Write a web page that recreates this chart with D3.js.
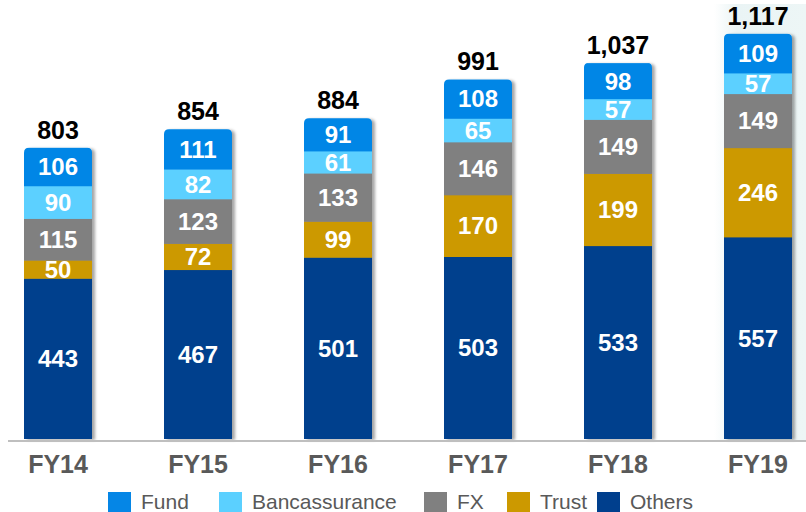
<!DOCTYPE html>
<html>
<head>
<meta charset="utf-8">
<script src="https://cdn.jsdelivr.net/npm/d3@7"></script>
<style>
  body { margin: 0; background: #fff; }
  svg { display: block; font-family: "Liberation Sans", Arial, sans-serif; }
</style>
</head>
<body>
<div id="chart"></div>
<script>
// data
const years = ['FY14', 'FY15', 'FY16', 'FY17', 'FY18', 'FY19'];
const series = ['Others', 'Trust', 'FX', 'Bancassurance', 'Fund'];
const others = [443, 467, 501, 503, 533, 557];
const trust = [50, 72, 99, 170, 199, 246];
const fx = [115, 123, 133, 146, 149, 149];
const banca = [90, 82, 61, 65, 57, 57];
const fund = [106, 111, 91, 108, 98, 109];
const totals = [803, 854, 884, 991, 1037, 1117];
const legendOrder = ['Fund', 'Bancassurance', 'FX', 'Trust', 'Others'];

const colors = {
  Fund: '#0586e6',
  Bancassurance: '#5bd0ff',
  FX: '#808080',
  Trust: '#cc9900',
  Others: '#003f8d'
};

const W = 806, H = 512;
const base = 439;

const rows = years.map((y, i) => ({
  year: y, Others: others[i], Trust: trust[i], FX: fx[i],
  Bancassurance: banca[i], Fund: fund[i], total: totals[i]
}));
const stacked = d3.stack().keys(series)(rows);

// step 140, bar width 68, first bar at x=24
const x = d3.scaleBand().domain(years).range([-46, 862]).paddingInner(0.514).paddingOuter(0.5);
const y = d3.scaleLinear().domain([0, 1210]).range([base, 0]);

const svg = d3.select('#chart').append('svg')
  .attr('width', W).attr('height', H)
  .attr('viewBox', `0 0 ${W} ${H}`);

const defs = svg.append('defs');
const shadow = defs.append('filter').attr('id', 'shadow')
  .attr('x', '-20%').attr('y', '-10%').attr('width', '140%').attr('height', '120%');
shadow.append('feDropShadow')
  .attr('dx', 3).attr('dy', 1).attr('stdDeviation', 1.6)
  .attr('flood-color', '#000').attr('flood-opacity', 0.35);

const grad = defs.append('linearGradient').attr('id', 'hl').attr('x1', 0).attr('x2', 1);
grad.append('stop').attr('offset', '0%').attr('stop-color', '#ffffff');
grad.append('stop').attr('offset', '25%').attr('stop-color', '#eaf4f5');
grad.append('stop').attr('offset', '100%').attr('stop-color', '#edf6f6');

// light highlight behind the last year
svg.append('rect')
  .attr('x', x('FY19') - 10).attr('y', 4)
  .attr('width', W - (x('FY19') - 10)).attr('height', base - 2)
  .attr('fill', 'url(#hl)');

// rounded-top outline for each bar
const r = 5;
const barPath = (x0, w, top) =>
  `M${x0},${base} V${top + r} Q${x0},${top} ${x0 + r},${top} H${x0 + w - r} Q${x0 + w},${top} ${x0 + w},${top + r} V${base} Z`;

rows.forEach((d, i) => {
  defs.append('clipPath').attr('id', 'clip' + i)
    .append('path').attr('d', barPath(x(d.year), x.bandwidth(), y(d.total)));
});

const bars = svg.append('g').selectAll('g')
  .data(rows).enter().append('g')
  .attr('filter', 'url(#shadow)')
  .append('g')
  .attr('clip-path', (d, i) => `url(#clip${i})`);

stacked.forEach(layer => {
  bars.append('rect')
    .attr('x', d => x(d.year))
    .attr('width', x.bandwidth())
    .attr('y', (d, i) => y(layer[i][1]))
    .attr('height', (d, i) => y(layer[i][0]) - y(layer[i][1]) + 0.5)
    .attr('fill', colors[layer.key]);
});

// segment labels
stacked.forEach(layer => {
  svg.append('g').selectAll('text')
    .data(layer).enter().append('text')
    .attr('x', d => x(d.data.year) + x.bandwidth() / 2)
    .attr('y', d => (y(d[0]) + y(d[1])) / 2)
    .attr('dy', '0.36em')
    .attr('text-anchor', 'middle')
    .attr('fill', '#fff')
    .attr('font-weight', 'bold')
    .attr('font-size', 24)
    .text(d => d.data[layer.key]);
});

// totals
svg.append('g').selectAll('text')
  .data(rows).enter().append('text')
  .attr('x', d => x(d.year) + x.bandwidth() / 2)
  .attr('y', d => y(d.total) - 9)
  .attr('text-anchor', 'middle')
  .attr('fill', '#000')
  .attr('font-weight', 'bold')
  .attr('font-size', 25)
  .text(d => d3.format(',')(d.total));

// axis
svg.append('line')
  .attr('x1', 8).attr('x2', W).attr('y1', base + 2).attr('y2', base + 2)
  .attr('stroke', '#bfbfbf').attr('stroke-width', 2);

svg.append('g').selectAll('text')
  .data(years).enter().append('text')
  .attr('x', d => x(d) + x.bandwidth() / 2)
  .attr('y', 473)
  .attr('text-anchor', 'middle')
  .attr('fill', '#595959')
  .attr('font-weight', 'bold')
  .attr('font-size', 25)
  .text(d => d);

// legend
const legendX = [108, 219, 424, 507, 597];
const legend = svg.append('g').selectAll('g')
  .data(legendOrder).enter().append('g')
  .attr('transform', (d, i) => `translate(${legendX[i]},492)`);
legend.append('rect')
  .attr('width', 23).attr('height', 20)
  .attr('fill', d => colors[d]);
legend.append('text')
  .attr('x', 33).attr('y', 16.5)
  .attr('fill', '#595959')
  .attr('font-size', 21)
  .text(d => d);
</script>
</body>
</html>
